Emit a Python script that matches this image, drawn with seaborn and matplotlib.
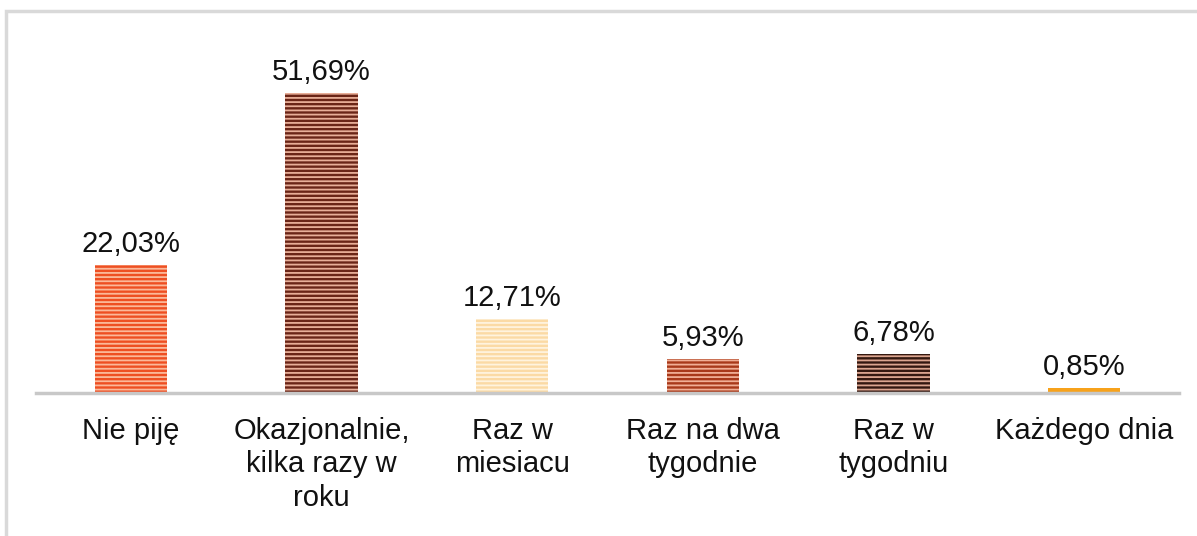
import matplotlib
matplotlib.use("Agg")
import matplotlib.pyplot as plt
import seaborn as sns
import pandas as pd
from matplotlib.patches import Rectangle

categories = ["Nie piję", "Okazjonalnie,\nkilka razy w\nroku", "Raz w\nmiesiacu",
              "Raz na dwa\ntygodnie", "Raz w\ntygodniu", "Każdego dnia"]
values = [22.03, 51.69, 12.71, 5.93, 6.78, 0.85]
labels = ["22,03%", "51,69%", "12,71%", "5,93%", "6,78%", "0,85%"]

face_colors = ["#EE4F22", "#6A2517", "#FBDAA5", "#A8391A", "#341810", "#F7A21B"]
stripe_colors = ["#FBB99A", "#E8AE98", "#FFF3DE", "#F0AE95", "#DDA690", "#F7A21B"]

sns.set_style("white")
plt.rcParams["font.family"] = ["Liberation Sans", "DejaVu Sans"]
plt.rcParams["hatch.linewidth"] = 1.3

df = pd.DataFrame({"cat": categories, "val": values})

fig = plt.figure(figsize=(11.97, 5.36), dpi=100)
ax = fig.add_axes([0.0298, 0.2668, 0.9554, 0.6496])

sns.barplot(data=df, x="cat", y="val", hue="cat", palette=face_colors,
            width=0.38, legend=False, ax=ax, saturation=1)

for i, p in enumerate(ax.patches):
    p.set_facecolor(face_colors[i])
    p.set_edgecolor(stripe_colors[i])
    p.set_linewidth(0)
    if i < 5:
        p.set_hatch("----")

for i, cont in enumerate(ax.containers):
    ax.bar_label(cont, labels=[labels[i]], padding=5, fontsize=21, color="#111111")

ax.set_ylim(0, 60)
ax.set_xlim(-0.5, 5.5)
ax.set_xlabel("")
ax.set_ylabel("")
ax.set_yticks([])
for s in ["top", "right", "left"]:
    ax.spines[s].set_visible(False)
ax.spines["bottom"].set_color("#C8C8C8")
ax.spines["bottom"].set_linewidth(2.5)
ax.tick_params(axis="x", length=0, pad=17, labelsize=21, labelcolor="#111111")
for t in ax.get_xticklabels():
    t.set_linespacing(1.25)

# outer frame of the chart area
fig.patches.append(Rectangle((6 / 1197, -0.05), 1.2, (536 - 11) / 536 + 0.05,
                             transform=fig.transFigure, fill=False,
                             edgecolor="#D9D9D9", linewidth=2.5, zorder=0))

fig.savefig("out.png", dpi=100)
